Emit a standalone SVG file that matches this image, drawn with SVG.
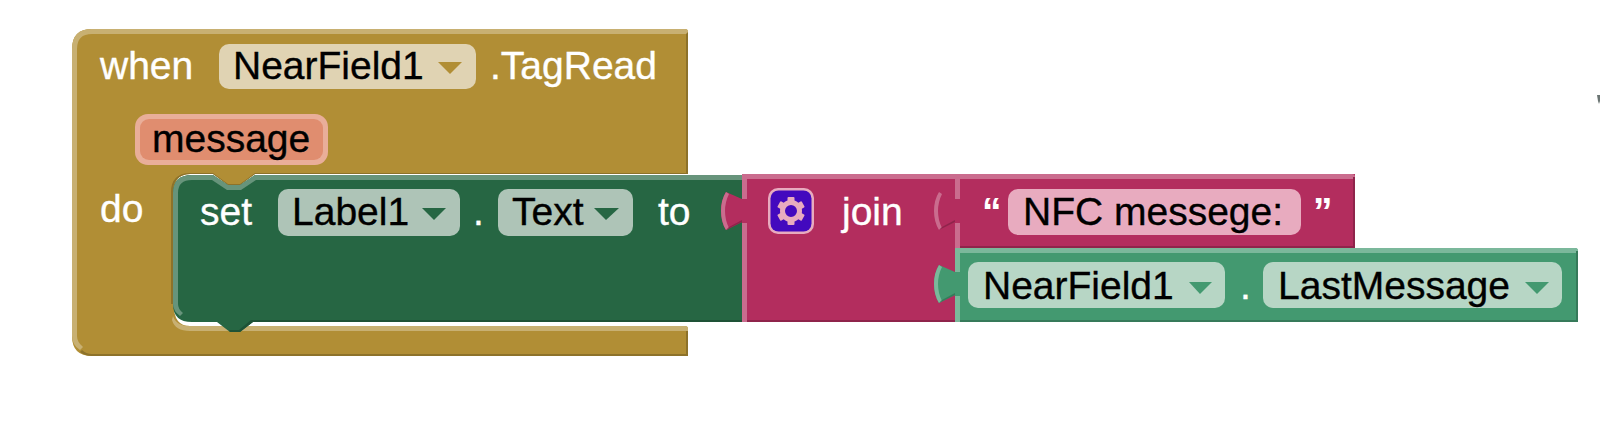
<svg xmlns="http://www.w3.org/2000/svg" width="1600" height="446" viewBox="0 0 1600 446">
<style>
text{font-family:"Liberation Sans",Arial,sans-serif;font-size:39px;stroke-width:.35px}
.w{fill:#fff;stroke:#fff}.k{fill:#000;stroke:#000}
.q{font-weight:bold;stroke:none}
.brown{fill:#b18e35}.brownL{fill:#c8b072}.brownD{fill:#8d722a}
.set{fill:#266643}.setL{fill:#67947b}.setD{fill:#1e5236}
.mag{fill:#b32d5e}.magL{fill:#ca6c8e}.magD{fill:#8f244b}
.grn{fill:#439970}.grnL{fill:#7bb89b}.grnD{fill:#367a5a}
</style>
<defs>
<path id="tab" d="M21 7L5 0Q0 8 0 19Q0 30 5 38L21 30Z"/>
<path id="cres" d="M5 0Q0 8 0 19Q0 30 5 38L8 36Q4 28 4 19Q4 10 8 2Z"/>
<path id="low" d="M5 38L21 30V28L8 35Z"/>
<g id="tooth"><rect x="-3.5" y="-14" width="7" height="6" rx="1"/></g>
</defs>
<rect width="1600" height="446" fill="#fff"/>
<g id="when-block">
<path class="brown" d="M92 29H685Q688 29 688 32V174H255L240 185H228L213 174H190Q174 174 174 192V300Q172 326 190 326H685Q688 326 688 329V356H92Q72 356 72 336V49Q72 29 92 29Z"/>
<path class="brownL" d="M72 49Q72 29 92 29H685Q688 29 688 32V34H92Q77 34 77 49V336Q77 342 83 347L80 350Q72 345 72 336Z"/>
<path class="brownD" d="M688 32V174H686V34ZM173 192V304H171V192Q171 174 189 173H213L228 184H240L255 173H688V174H255L240 185H228L213 174H190Q173 175 173 192ZM92 354H686V329H688V356H92Q85 356 80 352L82 350Q86 354 92 354Z"/>
<path class="brownL" d="M173 316Q176 326 190 326H685Q688 326 688 329V331H190Q175 331 172 320Z"/>
<rect x="219" y="44" width="257" height="45" rx="10" fill="#e0d3b3"/>
<path class="brown" d="M438 62H462L450 74Z"/>
<text class="w" x="100" y="79">when</text>
<text class="k" x="233" y="79">NearField1</text>
<text class="w" x="490" y="79">.TagRead</text>
<text class="w" x="100" y="222">do</text>
<rect x="135" y="114" width="193" height="51" rx="13" fill="#e9ae99"/>
<rect x="140" y="119" width="183" height="41" rx="9" fill="#e08d6f"/>
<text class="k" x="152" y="152">message</text>
</g>
<g id="set-block">
<path class="set" d="M192 175H213L228 185H240L255 175H742V322H253L240 332H230L217 322H192Q173 322 173 304V193Q173 175 192 175Z"/>
<path class="setL" d="M192 175H213L228 185H240L255 175H742V180H256L241 190H227L212 180H192Q178 180 178 193V304Q178 309 183 313L180 316Q173 311 173 304V193Q173 175 192 175Z"/>
<path class="setD" d="M253 322L240 332H230L229 330H239L251 320H742V322Z"/>
<rect x="278" y="189" width="182" height="47" rx="10" fill="#aec4b7"/>
<path class="set" d="M422 208H446L434 220Z"/>
<rect x="498" y="189" width="135" height="47" rx="10" fill="#aec4b7"/>
<path class="set" d="M594 208H619L606 220Z"/>
<text class="w" x="200" y="225">set</text>
<text class="k" x="292" y="225">Label1</text>
<text class="w" x="473" y="225">.</text>
<text class="k" x="512" y="225">Text</text>
<text class="w" x="658" y="225">to</text>
</g>
<g id="join-block">
<rect class="mag" x="742" y="174" width="214" height="148"/>
<use href="#tab" x="721" y="192" class="mag"/>
<use href="#cres" x="721" y="192" class="magL"/>
<use href="#low" x="721" y="192" class="magD"/>
<path class="magL" d="M742 174H955V179H747V199H742ZM742 223H747V322H742Z"/>
<path class="magD" d="M747 320H955V322H747Z"/>
<rect x="768" y="188" width="46" height="46" rx="10" fill="#e8abbf"/>
<rect x="770.500" y="190.500" width="41" height="41" rx="8" fill="#4309be"/>
<g fill="#e8abbf" transform="translate(791 211)">
<circle r="8.500" fill="none" stroke="#e8abbf" stroke-width="5"/>
<use href="#tooth"/><use href="#tooth" transform="rotate(60)"/><use href="#tooth" transform="rotate(120)"/><use href="#tooth" transform="rotate(180)"/><use href="#tooth" transform="rotate(240)"/><use href="#tooth" transform="rotate(300)"/>
</g>
<text class="w" x="842" y="225">join</text>
</g>
<g id="string-block">
<path class="mag" d="M955 174H1355V248H955Z"/>
<use href="#tab" x="934" y="192" class="mag"/>
<use href="#cres" x="934" y="192" class="magL"/>
<use href="#low" x="934" y="192" class="magD"/>
<path class="magL" d="M955 174H1352Q1355 174 1355 177V179H960V199H955ZM955 223H960V248H955Z"/>
<path class="magD" d="M1355 177V248H960V246H1353V177Z"/>
<rect x="1008" y="189" width="293" height="46" rx="10" fill="#e8abbf"/>
<text class="w q" x="982" y="225">“</text>
<text class="k" x="1023" y="225">NFC messege:</text>
<text class="w q" x="1313" y="225">”</text>
</g>
<g id="lastmessage-block">
<path class="grn" d="M955 248H1575Q1578 248 1578 251V322H955Z"/>
<use href="#tab" x="934" y="265" class="grn"/>
<use href="#cres" x="934" y="265" class="grnL"/>
<use href="#low" x="934" y="265" class="grnD"/>
<path class="grnL" d="M955 248H1575Q1578 248 1578 251V253H960V272H955ZM955 296H960V322H955Z"/>
<path class="grnD" d="M1578 251V322H960V320H1576V251Z"/>
<rect x="968" y="262" width="257" height="46" rx="10" fill="#b7d6c5"/>
<path class="grn" d="M1189 282H1212L1200 294Z"/>
<rect x="1263" y="262" width="299" height="46" rx="10" fill="#b7d6c5"/>
<path class="grn" d="M1525 282H1549L1537 294Z"/>
<text class="k" x="983" y="299">NearField1</text>
<text class="w" x="1240" y="299">.</text>
<text class="k" x="1278" y="299">LastMessage</text>
</g>
<g id="connectors"></g>
<polygon points="1597,95 1600,95 1600,101 1599,104 1598,101" fill="#6b7573"/>
</svg>
